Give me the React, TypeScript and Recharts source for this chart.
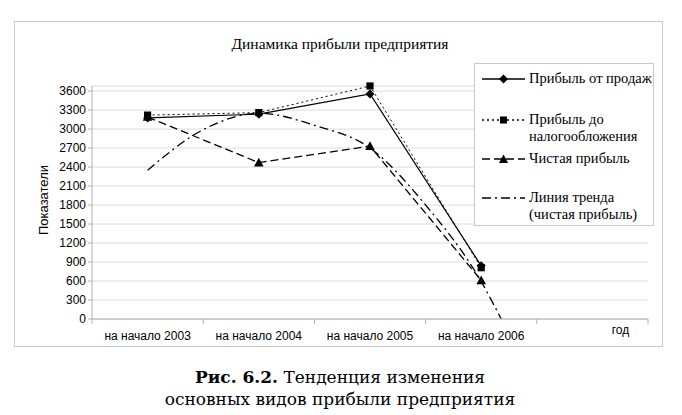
import React from "react";
import { LineChart, Line, XAxis, YAxis, CartesianGrid } from "recharts";

// ---- data ----
const categories = ["на начало 2003", "на начало 2004", "на начало 2005", "на начало 2006", "год"];
const yTicks = [0, 300, 600, 900, 1200, 1500, 1800, 2100, 2400, 2700, 3000, 3300, 3600];
const salesProfit = [3175, 3235, 3555, 840];
const pretaxProfit = [3220, 3260, 3680, 810];
const netProfit = [3190, 2470, 2730, 610];
const trendPositions = [0, 0.5, 1, 1.5, 2, 2.5, 3, 3.18];
const trendNetProfit = [2350, 2990, 3250, 3060, 2700, 1800, 590, 0];

const seriesNames = ["Прибыль от продаж", "Прибыль до налогообложения", "Чистая прибыль", "Линия тренда (чистая прибыль)"];

const toPts = (arr: number[]) => arr.map((v, i) => ({ x: i, y: v }));
const salesData = toPts(salesProfit);
const pretaxData = toPts(pretaxProfit);
const netData = toPts(netProfit);
const trendData = trendNetProfit.map((v, i) => ({ x: trendPositions[i], y: v }));

// ---- layout ----
const W = 682;
const H = 415;
const PLOT_LEFT = 92;
const PLOT_RIGHT = 648;
const PLOT_TOP = 86;
const PLOT_BOTTOM = 319;
const YAXIS_W = 50;
const XAXIS_H = 30;
const PLOT_W = PLOT_RIGHT - PLOT_LEFT;
const HALF_BAND = PLOT_W / (categories.length * 2);
const xTicks = [-0.5, 0.5, 1.5, 2.5, 3.5, 4.5];

const SANS = "'Liberation Sans', Arial, sans-serif";
const SERIF = "'Liberation Serif', 'Times New Roman', serif";

const Diamond = (p: any) => {
  const { cx, cy, index } = p;
  if (cx == null || cy == null) return <g key={"d" + index} />;
  const r = 4.5;
  return <path key={"d" + index} d={`M${cx},${cy - r}L${cx + r},${cy}L${cx},${cy + r}L${cx - r},${cy}Z`} fill="#000" />;
};
const Square = (p: any) => {
  const { cx, cy, index } = p;
  if (cx == null || cy == null) return <g key={"s" + index} />;
  const r = 3.6;
  return <rect key={"s" + index} x={cx - r} y={cy - r} width={2 * r} height={2 * r} fill="#000" />;
};
const Triangle = (p: any) => {
  const { cx, cy, index } = p;
  if (cx == null || cy == null) return <g key={"t" + index} />;
  const r = 4.8;
  return <path key={"t" + index} d={`M${cx},${cy - r}L${cx + r},${cy + r * 0.8}L${cx - r},${cy + r * 0.8}Z`} fill="#000" />;
};

const XTick = (props: any) => {
  const { x, y, payload } = props;
  const i = Math.round(payload.value + 0.5);
  const label = categories[i];
  if (!label) return <g />;
  const isLast = i === categories.length - 1;
  return (
    <text
      x={x + HALF_BAND + (isLast ? 28 : 0)}
      y={y}
      dy={isLast ? 8 : 14}
      textAnchor="middle"
      fontFamily={SANS}
      fontSize={12}
      fill="#000"
    >
      {label}
    </text>
  );
};

const LegendSample = ({ dash, marker }: { dash?: string; marker: string }) => (
  <svg width={46} height={12} style={{ display: "block" }}>
    <line x1={1} y1={6} x2={44} y2={6} stroke="#000" strokeWidth={1.3} strokeDasharray={dash} />
    {marker === "diamond" && <path d="M22.5,1.5L27,6L22.5,10.5L18,6Z" fill="#000" />}
    {marker === "square" && <rect x={19} y={2.5} width={7} height={7} fill="#000" />}
    {marker === "triangle" && <path d="M22.5,1.5L27,10L18,10Z" fill="#000" />}
  </svg>
);

const legendItems = [
  { lines: ["Прибыль от продаж"], dash: undefined, marker: "diamond", top: 6 },
  { lines: ["Прибыль до", "налогообложения"], dash: "2 3", marker: "square", top: 47 },
  { lines: ["Чистая прибыль"], dash: "8 4", marker: "triangle", top: 86 },
  { lines: ["Линия тренда", "(чистая прибыль)"], dash: "9 4 2 4", marker: "none", top: 125 },
];

export default function App() {
  return (
    <div style={{ position: "absolute", left: 0, top: 0, width: W, height: H, background: "#fff", overflow: "hidden" }}>
      {/* chart frame */}
      <div style={{ position: "absolute", left: 14, top: 21, width: 649, height: 326, border: "1px solid #c8c8c8", boxSizing: "border-box" }} />
      {/* title */}
      <div style={{ position: "absolute", left: 0, top: 34, width: W - 2, textAlign: "center", fontFamily: SERIF, fontSize: 15.5, lineHeight: "20px", color: "#000" }}>
        Динамика прибыли предприятия
      </div>
      <div style={{ position: "absolute", left: 0, top: 0 }}>
        <LineChart
          width={W}
          height={H}
          margin={{ top: PLOT_TOP, right: W - PLOT_RIGHT, left: PLOT_LEFT - YAXIS_W, bottom: H - PLOT_BOTTOM - XAXIS_H }}
        >
          <CartesianGrid horizontal vertical={false} stroke="#dcdcdc" strokeWidth={1} />
          <XAxis
            type="number"
            dataKey="x"
            domain={[-0.5, 4.5]}
            ticks={xTicks}
            interval={0}
            height={XAXIS_H}
            tickSize={5}
            tickMargin={2}
            axisLine={{ stroke: "#b0b0b0" }}
            tickLine={{ stroke: "#b0b0b0" }}
            tick={<XTick />}
            allowDuplicatedCategory={false}
          />
          <YAxis
            type="number"
            domain={[0, 3680]}
            ticks={yTicks}
            interval={0}
            width={YAXIS_W}
            tickSize={4}
            tickMargin={2}
            axisLine={{ stroke: "#b0b0b0" }}
            tickLine={{ stroke: "#b0b0b0" }}
            tick={{ fontFamily: SANS, fontSize: 12, fill: "#000" }}
          />
          <Line
            data={trendData}
            dataKey="y"
            name={seriesNames[3]}
            type="monotone"
            stroke="#000"
            strokeWidth={1.3}
            strokeDasharray="9 4 2 4"
            dot={false}
            activeDot={false}
            isAnimationActive={false}
          />
          <Line
            data={netData}
            dataKey="y"
            name={seriesNames[2]}
            type="linear"
            stroke="#000"
            strokeWidth={1.3}
            strokeDasharray="8 4"
            dot={Triangle}
            activeDot={false}
            isAnimationActive={false}
          />
          <Line
            data={pretaxData}
            dataKey="y"
            name={seriesNames[1]}
            type="linear"
            stroke="#000"
            strokeWidth={1}
            strokeDasharray="2 3"
            dot={Square}
            activeDot={false}
            isAnimationActive={false}
          />
          <Line
            data={salesData}
            dataKey="y"
            name={seriesNames[0]}
            type="linear"
            stroke="#000"
            strokeWidth={1.2}
            dot={Diamond}
            activeDot={false}
            isAnimationActive={false}
          />
        </LineChart>
      </div>
      {/* y axis title */}
      <div
        style={{
          position: "absolute",
          left: 43,
          top: 200,
          transform: "translate(-50%, -50%) rotate(-90deg)",
          fontFamily: SANS,
          fontSize: 13,
          whiteSpace: "nowrap",
          color: "#000",
        }}
      >
        Показатели
      </div>
      {/* legend */}
      <div style={{ position: "absolute", left: 474, top: 63, width: 180, height: 163, background: "#fff", border: "1px solid #c8c8c8", boxSizing: "border-box" }}>
        {legendItems.map((it, k) => (
          <div key={k} style={{ position: "absolute", left: 6, top: it.top, display: "flex", alignItems: "flex-start" }}>
            <div style={{ marginTop: 3 }}>
              <LegendSample dash={it.dash} marker={it.marker} />
            </div>
            <div style={{ marginLeft: 2, fontFamily: SERIF, fontSize: 14.5, lineHeight: "17px", color: "#000", whiteSpace: "nowrap" }}>
              {it.lines.map((l, j) => (
                <div key={j}>{l}</div>
              ))}
            </div>
          </div>
        ))}
      </div>
      {/* caption */}
      <div style={{ position: "absolute", left: 0, top: 366, width: W - 2, textAlign: "center", fontFamily: "'DejaVu Serif', serif", fontSize: 17, lineHeight: "22px", color: "#000" }}>
        <div>
          <b>Рис. 6.2.</b> Тенденция изменения
        </div>
        <div>основных видов прибыли предприятия</div>
      </div>
    </div>
  );
}
